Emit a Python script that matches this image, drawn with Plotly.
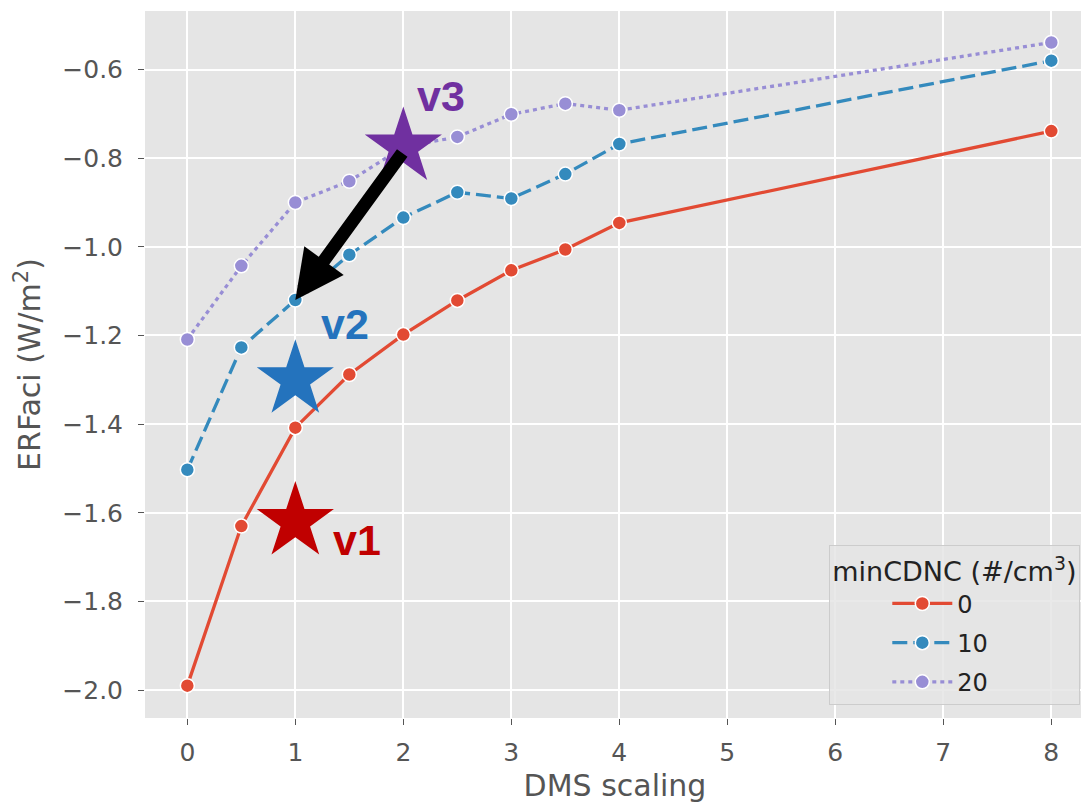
import plotly.graph_objects as go

# ---- data ----
dms = [0, 0.5, 1, 1.5, 2, 2.5, 3, 3.5, 4, 8]
erf_0 = [-1.99, -1.63, -1.408, -1.288, -1.198, -1.121, -1.053, -1.006, -0.946, -0.739]
erf_10 = [-1.503, -1.227, -1.12, -1.018, -0.934, -0.877, -0.891, -0.836, -0.768, -0.580]
erf_20 = [-1.209, -1.043, -0.900, -0.852, -0.775, -0.752, -0.701, -0.677, -0.692, -0.539]
series_names = ["0", "10", "20"]

versions = ["v1", "v2", "v3"]
version_x = [1.0, 1.0, 2.0]
version_y = [-1.62, -1.30, -0.775]
version_colors = ["#C00000", "#2473BD", "#7030A0"]
label_x = [1.572, 1.462, 2.35]
label_y = [-1.662, -1.175, -0.659]

xticks = [0, 1, 2, 3, 4, 5, 6, 7, 8]
yticks = [-2.0, -1.8, -1.6, -1.4, -1.2, -1.0, -0.8, -0.6]
ytick_text = ["\u22122.0", "\u22121.8", "\u22121.6", "\u22121.4", "\u22121.2", "\u22121.0", "\u22120.8", "\u22120.6"]

line_colors = ["#E24A33", "#348ABD", "#988ED5"]
line_dash = ["solid", "15px,6px", "4px,4px"]

fig = go.Figure()
for name, ys, c, d in zip(series_names, [erf_0, erf_10, erf_20], line_colors, line_dash):
    fig.add_trace(go.Scatter(
        x=dms, y=ys, name=name, mode="lines+markers",
        line=dict(color=c, width=3.3, dash=d),
        marker=dict(color=c, size=14, line=dict(color="white", width=1.5)),
        legendgroup=name,
    ))

for v, vx, vy, c in zip(versions, version_x, version_y, version_colors):
    fig.add_trace(go.Scatter(
        x=[vx], y=[vy], mode="markers", showlegend=False,
        marker=dict(symbol="star", size=58, color=c, line=dict(width=0)),
        hoverinfo="skip",
    ))

for v, lx, ly, c in zip(versions, label_x, label_y, version_colors):
    fig.add_annotation(x=lx, y=ly, xref="x", yref="y", text="<b>%s</b>" % v,
                       showarrow=False, xanchor="center", yanchor="middle",
                       font=dict(family="Liberation Sans, Arial", size=43, color=c))

# arrow from v3 star to the minCDNC=10 point at DMS=1
fig.add_annotation(x=dms[2], y=erf_10[2], xref="x", yref="y",
                   ax=version_x[2], ay=version_y[2] - 0.01, axref="x", ayref="y",
                   text="", showarrow=True, arrowhead=2, arrowsize=0.75,
                   arrowwidth=13, arrowcolor="black", standoff=0, startstandoff=0)

tick_font = dict(family="DejaVu Sans", size=25, color="#555555")
title_font = dict(family="DejaVu Sans", size=30, color="#555555")

fig.update_layout(
    width=1081, height=797,
    margin=dict(l=137, r=4, t=3, b=87, autoexpand=False),
    paper_bgcolor="white", plot_bgcolor="#E5E5E5",
    showlegend=True,
    legend=dict(
        x=0.995, y=0.018, xanchor="right", yanchor="bottom",
        bgcolor="rgba(229,229,229,0.85)", bordercolor="#CCCCCC", borderwidth=1,
        font=dict(family="DejaVu Sans", size=24, color="#222222"),
        title=dict(text="minCDNC (#/cm<sup>3</sup>)", side="top",
                   font=dict(family="DejaVu Sans", size=27, color="#222222")),
        traceorder="grouped", tracegroupgap=5,
        indentation=57, itemwidth=60,
    ),
)
fig.update_xaxes(
    range=[-0.392, 8.312], tickvals=xticks, ticktext=[str(t) for t in xticks],
    showgrid=True, gridcolor="white", gridwidth=1.6, zeroline=False,
    ticks="outside", ticklen=6, tickwidth=1.2, tickcolor="#555555",
    tickfont=tick_font, ticklabelstandoff=6, showline=False,
    title=dict(text="DMS scaling", font=title_font, standoff=8),
)
fig.update_yaxes(
    range=[-2.063, -0.468], tickvals=yticks, ticktext=ytick_text,
    showgrid=True, gridcolor="white", gridwidth=1.6, zeroline=False,
    ticks="outside", ticklen=6, tickwidth=1.2, tickcolor="#555555",
    tickfont=tick_font, ticklabelstandoff=10, showline=False,
    title=dict(text="ERFaci (W/m<sup>2</sup>)", font=title_font, standoff=12),
)

fig.write_html("out.html")
